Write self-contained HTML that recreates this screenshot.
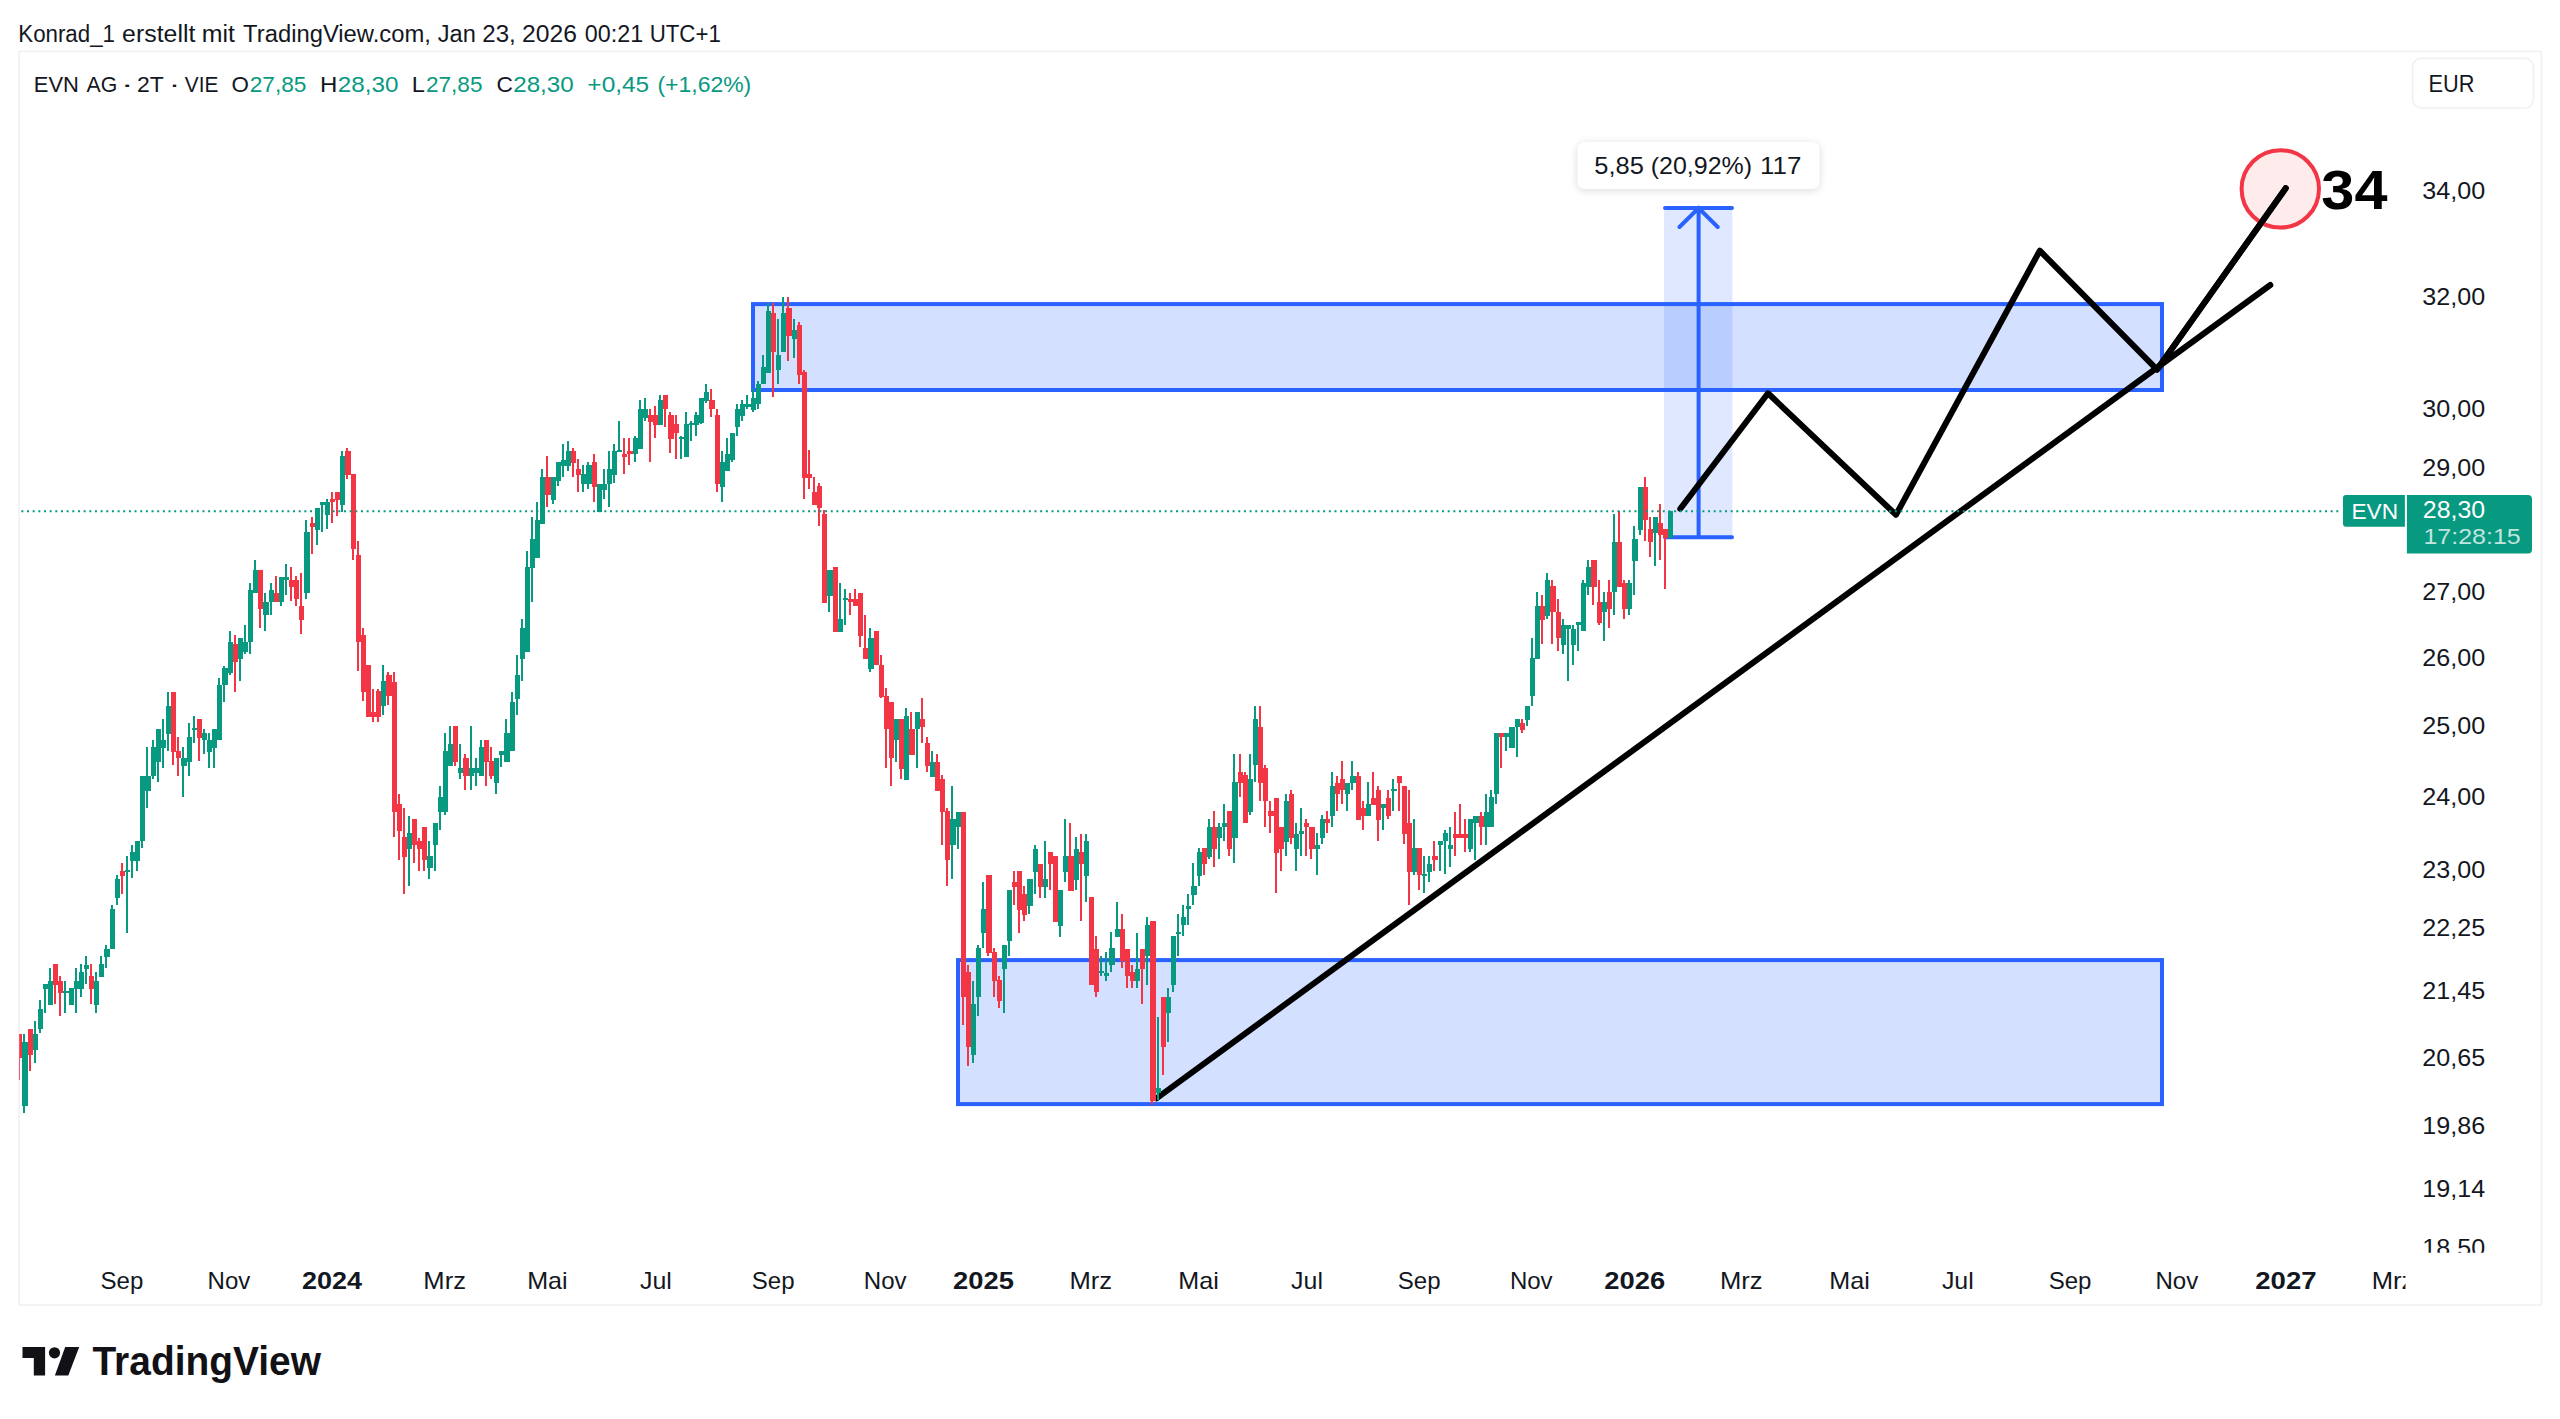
<!DOCTYPE html>
<html><head><meta charset="utf-8"><title>EVN AG chart</title>
<style>
html,body{margin:0;padding:0;background:#fff;}
body{width:2560px;height:1419px;overflow:hidden;position:relative;font-family:"Liberation Sans",sans-serif;}
svg{position:absolute;left:0;top:0;}
text{font-family:"Liberation Sans",sans-serif;fill:#131722;}
</style></head><body>
<svg width="2560" height="1419" viewBox="0 0 2560 1419">
<defs>
<clipPath id="pane"><rect x="19.2" y="52" width="2386.8" height="1200"/></clipPath>
<clipPath id="paxis"><rect x="2406" y="52" width="134" height="1200.7"/></clipPath>
<clipPath id="taxis"><rect x="20" y="1252" width="2385.5" height="52"/></clipPath>
<filter id="sh" x="-10%" y="-40%" width="120%" height="190%"><feGaussianBlur stdDeviation="4"/></filter>
</defs>
<rect x="0" y="0" width="2560" height="1419" fill="#fff"/>
<!-- header -->
<text x="18.27" y="41.5" font-size="23" textLength="96.72" lengthAdjust="spacingAndGlyphs" style="fill:#131722">Konrad_1</text>
<text x="122.12" y="41.5" font-size="23" textLength="73.27" lengthAdjust="spacingAndGlyphs" style="fill:#131722">erstellt</text>
<text x="201.73" y="41.5" font-size="23" textLength="33.19" lengthAdjust="spacingAndGlyphs" style="fill:#131722">mit</text>
<text x="243.13" y="41.5" font-size="23" textLength="187.75" lengthAdjust="spacingAndGlyphs" style="fill:#131722">TradingView.com,</text>
<text x="437.79" y="41.5" font-size="23" textLength="38.03" lengthAdjust="spacingAndGlyphs" style="fill:#131722">Jan</text>
<text x="482.39" y="41.5" font-size="23" textLength="33.44" lengthAdjust="spacingAndGlyphs" style="fill:#131722">23,</text>
<text x="522.1" y="41.5" font-size="23" textLength="54.9" lengthAdjust="spacingAndGlyphs" style="fill:#131722">2026</text>
<text x="584.82" y="41.5" font-size="23" textLength="58.34" lengthAdjust="spacingAndGlyphs" style="fill:#131722">00:21</text>
<text x="649.7" y="41.5" font-size="23" textLength="71.15" lengthAdjust="spacingAndGlyphs" style="fill:#131722">UTC+1</text>
<!-- frame -->
<rect x="19.1" y="51.4" width="2522.3" height="1253.6" fill="#fff" stroke="#f1f1f3" stroke-width="1.6"/>
<g clip-path="url(#pane)">
<!-- zones -->
<rect x="753" y="304.1" width="1409" height="85.9" fill="rgba(41,98,255,0.2)" stroke="#2962ff" stroke-width="4"/>
<rect x="958" y="960.1" width="1204" height="144" fill="rgba(41,98,255,0.2)" stroke="#2962ff" stroke-width="4"/>
<!-- measure tool -->
<rect x="1664" y="208" width="68.4" height="329" fill="rgba(41,98,255,0.15)"/>
<g stroke="#2962ff" stroke-width="4" stroke-linecap="round" fill="none">
<path d="M1665 208H1732M1665 537.3H1732M1698.6 208V537.3M1679.5 227L1698.6 208L1717.7 227"/>
</g>
<!-- black lines -->
<g stroke="#000" stroke-width="6" stroke-linecap="round" stroke-linejoin="round" fill="none">
<path d="M1156.5 1098.3L2270.3 285"/>
<path d="M1680.3 508.8L1768 393.3L1896 514.8L2039.8 250.7L2157.1 369.6L2285.7 188.2"/>
</g>
<!-- circle -->
<circle cx="2280.3" cy="188.9" r="38.7" fill="rgba(242,54,69,0.1)" stroke="#f23645" stroke-width="4"/>
<path d="M2157.1 369.6L2285.7 188.2" stroke="#000" stroke-width="6" stroke-linecap="round" fill="none"/>
<!-- candles -->
<path fill="#f23645" d="M18 1058h2V1080h-2zM17 1034h5V1058h-5zM29 1055h2V1071h-2zM28 1029h5V1055h-5zM54 985h2V1004h-2zM53 964h5V985h-5zM59 976h2V981h-2zM59 993h2V1016h-2zM58 981h5V993h-5zM90 964h2V976h-2zM90 989h2V1004h-2zM89 976h5V989h-5zM121 863h2V871h-2zM121 876h2V894h-2zM120 871h5V876h-5zM172 752h2V765h-2zM171 692h5V752h-5zM177 737h2V751h-2zM177 758h2V776h-2zM176 751h5V758h-5zM198 738h2V761h-2zM197 719h5V738h-5zM234 635h2V644h-2zM234 662h2V692h-2zM233 644h5V662h-5zM259 609h2V628h-2zM258 570h5V609h-5zM275 576h2V593h-2zM274 593h5V602h-5zM290 567h2V580h-2zM290 587h2V601h-2zM289 580h5V587h-5zM295 576h2V580h-2zM295 599h2V606h-2zM294 580h5V599h-5zM300 573h2V606h-2zM300 620h2V634h-2zM299 606h5V620h-5zM311 517h2V523h-2zM311 527h2V554h-2zM310 523h5V527h-5zM331 492h2V499h-2zM331 502h2V523h-2zM330 499h5V502h-5zM336 500h2V516h-2zM335 492h5V500h-5zM346 448h2V451h-2zM346 475h2V479h-2zM345 451h6V475h-6zM352 549h2V560h-2zM351 474h5V549h-5zM357 541h2V555h-2zM357 642h2V671h-2zM356 555h5V642h-5zM362 628h2V635h-2zM362 692h2V701h-2zM361 635h5V692h-5zM366 665h5V717h-5zM372 689h2V712h-2zM372 717h2V722h-2zM371 712h5V717h-5zM377 689h2V691h-2zM377 717h2V722h-2zM376 691h5V717h-5zM387 672h2V675h-2zM387 696h2V705h-2zM386 675h6V696h-6zM393 672h2V682h-2zM393 812h2V837h-2zM392 682h5V812h-5zM398 794h2V804h-2zM398 831h2V860h-2zM397 804h5V831h-5zM403 808h2V837h-2zM403 857h2V894h-2zM402 837h5V857h-5zM413 845h2V863h-2zM412 819h5V845h-5zM418 838h2V841h-2zM418 849h2V871h-2zM417 841h5V849h-5zM423 860h2V871h-2zM422 827h5V860h-5zM454 762h2V766h-2zM453 726h5V762h-5zM464 754h2V758h-2zM464 776h2V790h-2zM463 758h6V776h-6zM485 762h2V786h-2zM484 740h5V762h-5zM490 747h2V761h-2zM490 776h2V779h-2zM489 761h5V776h-5zM546 456h2V477h-2zM546 495h2V507h-2zM545 477h6V495h-6zM572 448h2V451h-2zM572 463h2V477h-2zM571 451h5V463h-5zM577 459h2V469h-2zM577 475h2V492h-2zM576 469h5V475h-5zM593 454h2V462h-2zM593 487h2V502h-2zM592 462h5V487h-5zM623 438h2V454h-2zM623 457h2V474h-2zM622 454h5V457h-5zM628 438h2V451h-2zM628 454h2V465h-2zM627 451h6V454h-6zM649 409h2V415h-2zM649 422h2V462h-2zM648 415h5V422h-5zM654 406h2V415h-2zM654 425h2V438h-2zM653 415h5V425h-5zM664 409h2V427h-2zM663 395h5V409h-5zM669 412h2V415h-2zM669 439h2V453h-2zM668 415h6V439h-6zM675 415h2V424h-2zM675 433h2V459h-2zM674 424h5V433h-5zM710 389h2V400h-2zM710 409h2V417h-2zM709 400h6V409h-6zM716 409h2V415h-2zM716 484h2V492h-2zM715 415h5V484h-5zM772 303h2V313h-2zM772 352h2V397h-2zM771 313h5V352h-5zM787 297h2V308h-2zM787 336h2V361h-2zM786 308h6V336h-6zM798 322h2V325h-2zM798 375h2V384h-2zM797 325h5V375h-5zM803 370h2V372h-2zM803 478h2V499h-2zM802 372h5V478h-5zM808 450h2V474h-2zM808 478h2V489h-2zM807 474h5V478h-5zM813 477h2V492h-2zM812 492h5V505h-5zM818 483h2V486h-2zM818 508h2V526h-2zM817 486h5V508h-5zM823 510h2V514h-2zM822 514h5V603h-5zM833 567h5V632h-5zM849 593h2V599h-2zM849 602h2V615h-2zM848 599h5V602h-5zM854 589h2V599h-2zM853 599h5V606h-5zM859 636h2V647h-2zM858 593h5V636h-5zM864 615h2V648h-2zM863 648h5V659h-5zM874 631h5V665h-5zM880 655h2V665h-2zM880 697h2V698h-2zM879 665h5V697h-5zM885 688h2V696h-2zM885 729h2V768h-2zM884 696h5V729h-5zM890 758h2V786h-2zM889 702h5V758h-5zM900 769h2V779h-2zM899 719h5V769h-5zM910 712h2V729h-2zM909 729h6V755h-6zM921 698h2V719h-2zM921 727h2V743h-2zM920 719h5V727h-5zM926 737h2V743h-2zM926 766h2V772h-2zM925 743h5V766h-5zM936 754h2V762h-2zM935 762h5V791h-5zM941 775h2V779h-2zM941 812h2V845h-2zM940 779h5V812h-5zM946 808h2V811h-2zM946 860h2V886h-2zM945 811h5V860h-5zM962 997h2V1025h-2zM961 812h5V997h-5zM967 965h2V972h-2zM967 1047h2V1066h-2zM966 972h5V1047h-5zM987 953h2V956h-2zM986 875h6V953h-6zM993 948h2V952h-2zM993 981h2V997h-2zM992 952h5V981h-5zM998 976h2V980h-2zM998 1001h2V1008h-2zM997 980h5V1001h-5zM1013 871h2V882h-2zM1013 887h2V905h-2zM1012 882h5V887h-5zM1018 910h2V933h-2zM1017 871h5V910h-5zM1023 886h2V894h-2zM1023 915h2V921h-2zM1022 894h5V915h-5zM1039 887h2V898h-2zM1038 864h5V887h-5zM1049 864h2V890h-2zM1048 852h5V864h-5zM1053 856h5V922h-5zM1069 823h2V856h-2zM1068 856h6V891h-6zM1080 834h2V852h-2zM1080 864h2V921h-2zM1079 852h5V864h-5zM1089 897h5V985h-5zM1095 936h2V949h-2zM1095 992h2V997h-2zM1094 949h5V992h-5zM1121 914h2V929h-2zM1121 961h2V968h-2zM1120 929h5V961h-5zM1126 976h2V988h-2zM1125 949h5V976h-5zM1131 965h2V972h-2zM1131 981h2V988h-2zM1130 972h5V981h-5zM1141 969h2V1004h-2zM1140 949h5V969h-5zM1151 1101h2V1105h-2zM1150 921h6V1101h-6zM1162 1047h2V1075h-2zM1161 997h5V1047h-5zM1203 864h2V875h-2zM1202 848h5V864h-5zM1213 811h2V827h-2zM1213 849h2V867h-2zM1212 827h5V849h-5zM1228 849h2V856h-2zM1227 811h5V849h-5zM1239 754h2V772h-2zM1239 783h2V797h-2zM1238 772h5V783h-5zM1244 772h2V775h-2zM1243 775h5V823h-5zM1259 706h2V727h-2zM1259 783h2V801h-2zM1258 727h5V783h-5zM1264 765h2V768h-2zM1264 801h2V827h-2zM1263 768h5V801h-5zM1269 801h2V811h-2zM1269 816h2V833h-2zM1268 811h6V816h-6zM1275 853h2V893h-2zM1274 798h5V853h-5zM1280 849h2V871h-2zM1279 827h5V849h-5zM1290 790h2V794h-2zM1290 838h2V844h-2zM1289 794h5V838h-5zM1305 819h2V823h-2zM1305 827h2V856h-2zM1304 823h5V827h-5zM1310 849h2V859h-2zM1309 827h6V849h-6zM1326 811h2V819h-2zM1326 823h2V833h-2zM1325 819h5V823h-5zM1336 776h2V783h-2zM1336 794h2V811h-2zM1335 783h5V794h-5zM1341 761h2V779h-2zM1341 790h2V804h-2zM1340 779h5V790h-5zM1357 772h2V776h-2zM1356 776h5V820h-5zM1362 801h2V808h-2zM1362 816h2V830h-2zM1361 808h5V816h-5zM1372 772h2V798h-2zM1371 798h5V805h-5zM1377 786h2V790h-2zM1377 820h2V841h-2zM1376 790h5V820h-5zM1387 790h2V798h-2zM1387 816h2V819h-2zM1386 798h5V816h-5zM1398 783h2V811h-2zM1397 776h5V783h-5zM1403 834h2V844h-2zM1402 786h5V834h-5zM1408 790h2V823h-2zM1408 872h2V905h-2zM1407 823h5V872h-5zM1418 875h2V890h-2zM1417 848h5V875h-5zM1433 841h2V856h-2zM1433 860h2V871h-2zM1432 856h6V860h-6zM1454 812h2V834h-2zM1454 838h2V856h-2zM1453 834h5V838h-5zM1459 804h2V834h-2zM1458 834h5V838h-5zM1464 819h2V834h-2zM1464 838h2V852h-2zM1463 834h5V838h-5zM1480 812h2V816h-2zM1480 827h2V845h-2zM1479 816h5V827h-5zM1500 737h2V768h-2zM1499 733h5V737h-5zM1521 719h2V723h-2zM1521 730h2V733h-2zM1520 723h5V730h-5zM1541 595h2V606h-2zM1541 620h2V644h-2zM1540 606h5V620h-5zM1551 580h2V586h-2zM1551 612h2V644h-2zM1550 586h6V612h-6zM1557 599h2V612h-2zM1557 638h2V651h-2zM1556 612h5V638h-5zM1592 587h2V605h-2zM1591 560h6V587h-6zM1598 580h2V602h-2zM1598 623h2V625h-2zM1597 602h5V623h-5zM1608 580h2V592h-2zM1608 609h2V628h-2zM1607 592h5V609h-5zM1618 511h2V542h-2zM1617 542h5V587h-5zM1623 580h2V583h-2zM1623 609h2V619h-2zM1622 583h5V609h-5zM1644 477h2V487h-2zM1644 520h2V541h-2zM1643 487h5V520h-5zM1649 517h2V529h-2zM1649 542h2V557h-2zM1648 529h5V542h-5zM1659 504h2V523h-2zM1659 535h2V560h-2zM1658 523h5V535h-5zM1664 538h2V589h-2zM1663 529h5V538h-5z"/>
<path fill="#089981" d="M23 1034h2V1042h-2zM23 1106h2V1113h-2zM22 1042h6V1106h-6zM34 1021h2V1034h-2zM34 1050h2V1063h-2zM33 1034h5V1050h-5zM39 1000h2V1009h-2zM39 1029h2V1033h-2zM38 1009h5V1029h-5zM44 989h2V1013h-2zM43 984h5V989h-5zM49 968h2V981h-2zM48 981h5V1005h-5zM64 981h2V991h-2zM64 993h2V1013h-2zM63 991h6V993h-6zM69 988h5V1005h-5zM75 968h2V981h-2zM75 989h2V1013h-2zM74 981h5V989h-5zM80 964h2V972h-2zM80 989h2V997h-2zM79 972h5V989h-5zM85 956h2V965h-2zM85 969h2V984h-2zM84 965h5V969h-5zM95 972h2V981h-2zM95 1005h2V1013h-2zM94 981h5V1005h-5zM100 956h2V964h-2zM99 964h5V977h-5zM105 945h2V949h-2zM105 957h2V968h-2zM104 949h6V957h-6zM111 905h2V909h-2zM110 909h5V949h-5zM116 875h2V879h-2zM116 898h2V905h-2zM115 879h5V898h-5zM126 856h2V870h-2zM126 872h2V933h-2zM125 870h5V872h-5zM131 845h2V852h-2zM131 861h2V878h-2zM130 852h5V861h-5zM136 861h2V871h-2zM135 841h5V861h-5zM141 841h2V848h-2zM140 776h5V841h-5zM146 747h2V776h-2zM146 791h2V808h-2zM145 776h6V791h-6zM152 740h2V747h-2zM152 776h2V779h-2zM151 747h5V776h-5zM157 762h2V782h-2zM156 729h5V762h-5zM162 719h2V740h-2zM162 748h2V768h-2zM161 740h5V748h-5zM167 692h2V706h-2zM167 734h2V751h-2zM166 706h5V734h-5zM182 747h2V758h-2zM182 766h2V797h-2zM181 758h6V766h-6zM188 723h2V737h-2zM188 762h2V776h-2zM187 737h5V762h-5zM193 716h2V728h-2zM193 730h2V743h-2zM192 728h5V730h-5zM203 729h2V733h-2zM203 740h2V754h-2zM202 733h5V740h-5zM208 733h2V740h-2zM208 752h2V768h-2zM207 740h5V752h-5zM213 748h2V768h-2zM212 729h5V748h-5zM218 678h2V685h-2zM217 685h5V740h-5zM223 666h2V668h-2zM223 685h2V702h-2zM222 668h6V685h-6zM229 631h2V642h-2zM229 673h2V675h-2zM228 642h5V673h-5zM239 659h2V681h-2zM238 638h5V659h-5zM244 625h2V642h-2zM244 652h2V654h-2zM243 642h5V652h-5zM249 583h2V590h-2zM249 642h2V654h-2zM248 590h5V642h-5zM254 560h2V570h-2zM253 570h5V593h-5zM264 593h2V602h-2zM264 615h2V631h-2zM263 602h6V615h-6zM270 583h2V590h-2zM270 602h2V615h-2zM269 590h5V602h-5zM280 602h2V606h-2zM279 577h5V602h-5zM285 564h2V577h-2zM285 580h2V595h-2zM284 577h5V580h-5zM305 520h2V532h-2zM305 593h2V599h-2zM304 532h6V593h-6zM316 530h2V545h-2zM315 508h5V530h-5zM321 505h2V532h-2zM320 502h5V505h-5zM326 499h2V502h-2zM326 515h2V529h-2zM325 502h5V515h-5zM341 451h2V456h-2zM341 505h2V512h-2zM340 456h5V505h-5zM382 665h2V681h-2zM382 706h2V715h-2zM381 681h5V706h-5zM408 816h2V833h-2zM408 849h2V886h-2zM407 833h5V849h-5zM428 841h2V856h-2zM428 868h2V879h-2zM427 856h6V868h-6zM434 845h2V871h-2zM433 823h5V845h-5zM439 786h2V797h-2zM439 812h2V830h-2zM438 797h5V812h-5zM444 733h2V751h-2zM444 812h2V815h-2zM443 751h5V812h-5zM449 726h2V744h-2zM448 744h5V766h-5zM459 744h2V768h-2zM459 773h2V779h-2zM458 768h5V773h-5zM470 726h2V768h-2zM470 776h2V790h-2zM469 768h5V776h-5zM475 758h2V768h-2zM475 773h2V786h-2zM474 768h5V773h-5zM480 740h2V747h-2zM479 747h5V776h-5zM495 783h2V794h-2zM494 758h5V783h-5zM500 755h2V767h-2zM499 751h5V755h-5zM505 719h2V733h-2zM504 733h6V762h-6zM511 692h2V702h-2zM510 702h5V751h-5zM516 655h2V675h-2zM516 699h2V715h-2zM515 675h5V699h-5zM521 619h2V628h-2zM521 659h2V681h-2zM520 628h5V659h-5zM526 551h2V567h-2zM525 567h5V652h-5zM531 517h2V539h-2zM531 568h2V602h-2zM530 539h5V568h-5zM536 502h2V520h-2zM535 520h5V558h-5zM541 469h2V477h-2zM540 477h5V524h-5zM552 500h2V504h-2zM551 477h5V500h-5zM557 481h2V486h-2zM556 462h5V481h-5zM562 444h2V460h-2zM562 466h2V477h-2zM561 460h5V466h-5zM567 441h2V451h-2zM567 466h2V471h-2zM566 451h5V466h-5zM582 465h2V474h-2zM582 484h2V492h-2zM581 474h5V484h-5zM587 462h2V465h-2zM587 484h2V489h-2zM586 465h6V484h-6zM597 484h5V512h-5zM603 469h2V484h-2zM603 490h2V499h-2zM602 484h5V490h-5zM608 451h2V469h-2zM608 484h2V507h-2zM607 469h5V484h-5zM613 444h2V451h-2zM613 475h2V483h-2zM612 451h5V475h-5zM618 421h2V450h-2zM617 450h5V452h-5zM634 436h2V438h-2zM634 454h2V462h-2zM633 438h5V454h-5zM639 400h2V409h-2zM638 409h5V449h-5zM644 398h2V409h-2zM644 418h2V421h-2zM643 409h5V418h-5zM659 395h2V400h-2zM658 400h5V425h-5zM680 436h2V437h-2zM680 439h2V459h-2zM679 437h5V439h-5zM685 412h2V424h-2zM684 424h5V457h-5zM690 421h2V423h-2zM690 425h2V441h-2zM689 423h5V425h-5zM695 412h2V415h-2zM695 425h2V436h-2zM694 415h5V425h-5zM700 423h2V424h-2zM699 398h5V423h-5zM705 384h2V392h-2zM705 401h2V403h-2zM704 392h5V401h-5zM721 451h2V462h-2zM721 487h2V502h-2zM720 462h5V487h-5zM726 438h2V454h-2zM725 454h5V471h-5zM731 460h2V462h-2zM730 433h5V460h-5zM736 404h2V409h-2zM736 427h2V436h-2zM735 409h5V427h-5zM741 400h2V404h-2zM741 416h2V421h-2zM740 404h5V416h-5zM746 395h2V404h-2zM746 407h2V409h-2zM745 404h6V407h-6zM752 389h2V398h-2zM752 410h2V412h-2zM751 398h5V410h-5zM757 381h2V384h-2zM757 404h2V409h-2zM756 384h5V404h-5zM762 355h2V367h-2zM761 367h5V384h-5zM767 303h2V311h-2zM766 311h5V373h-5zM777 319h2V355h-2zM777 370h2V384h-2zM776 355h5V370h-5zM782 297h2V313h-2zM781 313h5V352h-5zM793 319h2V330h-2zM793 339h2V358h-2zM792 330h5V339h-5zM828 596h2V612h-2zM827 570h6V596h-6zM839 583h2V619h-2zM838 619h5V632h-5zM844 589h2V598h-2zM844 600h2V625h-2zM843 598h5V600h-5zM869 628h2V638h-2zM869 669h2V672h-2zM868 638h6V669h-6zM895 740h2V762h-2zM894 719h5V740h-5zM905 708h2V716h-2zM904 716h5V780h-5zM916 729h2V768h-2zM915 712h5V729h-5zM931 751h2V762h-2zM930 762h5V777h-5zM951 786h2V819h-2zM951 845h2V879h-2zM950 819h6V845h-6zM957 827h2V849h-2zM956 812h5V827h-5zM972 981h2V1004h-2zM972 1055h2V1063h-2zM971 1004h5V1055h-5zM977 945h2V948h-2zM977 997h2V1016h-2zM976 948h5V997h-5zM982 882h2V909h-2zM982 933h2V948h-2zM981 909h5V933h-5zM1003 969h2V1013h-2zM1002 945h5V969h-5zM1008 941h2V956h-2zM1007 890h5V941h-5zM1028 906h2V914h-2zM1027 879h6V906h-6zM1034 845h2V849h-2zM1034 872h2V894h-2zM1033 849h5V872h-5zM1044 841h2V879h-2zM1044 887h2V898h-2zM1043 879h5V887h-5zM1059 926h2V937h-2zM1058 890h5V926h-5zM1064 819h2V856h-2zM1064 872h2V882h-2zM1063 856h5V872h-5zM1075 837h2V849h-2zM1075 880h2V890h-2zM1074 849h5V880h-5zM1085 834h2V841h-2zM1085 876h2V902h-2zM1084 841h5V876h-5zM1100 956h2V971h-2zM1100 973h2V976h-2zM1099 971h5V973h-5zM1105 952h2V973h-2zM1105 976h2V981h-2zM1104 973h5V976h-5zM1110 932h2V948h-2zM1110 965h2V972h-2zM1109 948h6V965h-6zM1116 902h2V929h-2zM1115 929h5V937h-5zM1136 933h2V969h-2zM1136 981h2V988h-2zM1135 969h5V981h-5zM1146 917h2V925h-2zM1146 956h2V985h-2zM1145 925h5V956h-5zM1157 1017h2V1088h-2zM1157 1093h2V1100h-2zM1156 1088h5V1093h-5zM1167 988h2V997h-2zM1167 1013h2V1042h-2zM1166 997h5V1013h-5zM1172 985h2V992h-2zM1171 936h5V985h-5zM1177 914h2V932h-2zM1177 934h2V956h-2zM1176 932h5V934h-5zM1182 905h2V917h-2zM1182 925h2V936h-2zM1181 917h5V925h-5zM1187 894h2V906h-2zM1187 909h2V925h-2zM1186 906h5V909h-5zM1192 863h2V886h-2zM1192 895h2V905h-2zM1191 886h6V895h-6zM1198 848h2V852h-2zM1198 876h2V886h-2zM1197 852h5V876h-5zM1208 819h2V827h-2zM1208 857h2V859h-2zM1207 827h5V857h-5zM1218 823h2V827h-2zM1218 838h2V859h-2zM1217 827h5V838h-5zM1223 804h2V823h-2zM1223 827h2V841h-2zM1222 823h5V827h-5zM1233 754h2V782h-2zM1233 838h2V863h-2zM1232 782h6V838h-6zM1249 754h2V779h-2zM1249 812h2V815h-2zM1248 779h5V812h-5zM1254 706h2V719h-2zM1254 765h2V782h-2zM1253 719h5V765h-5zM1285 794h2V801h-2zM1285 842h2V856h-2zM1284 801h5V842h-5zM1295 823h2V834h-2zM1295 849h2V871h-2zM1294 834h5V849h-5zM1300 808h2V831h-2zM1300 834h2V856h-2zM1299 831h5V834h-5zM1316 833h2V845h-2zM1316 849h2V875h-2zM1315 845h5V849h-5zM1321 815h2V819h-2zM1321 838h2V844h-2zM1320 819h5V838h-5zM1331 772h2V786h-2zM1331 816h2V827h-2zM1330 786h5V816h-5zM1346 794h2V811h-2zM1345 783h5V794h-5zM1351 761h2V776h-2zM1351 783h2V790h-2zM1350 776h6V783h-6zM1367 782h2V804h-2zM1366 804h5V816h-5zM1382 808h2V830h-2zM1381 804h5V808h-5zM1392 779h2V789h-2zM1392 791h2V811h-2zM1391 789h6V791h-6zM1413 819h2V848h-2zM1413 872h2V875h-2zM1412 848h5V872h-5zM1423 856h2V874h-2zM1423 876h2V893h-2zM1422 874h5V876h-5zM1428 856h2V864h-2zM1428 872h2V882h-2zM1427 864h5V872h-5zM1439 845h2V871h-2zM1438 841h5V845h-5zM1444 830h2V833h-2zM1444 841h2V874h-2zM1443 833h5V841h-5zM1449 827h2V845h-2zM1449 849h2V867h-2zM1448 845h5V849h-5zM1469 849h2V852h-2zM1468 819h5V849h-5zM1474 823h2V860h-2zM1473 816h6V823h-6zM1485 794h2V812h-2zM1485 827h2V845h-2zM1484 812h5V827h-5zM1490 790h2V797h-2zM1489 797h5V827h-5zM1495 794h2V804h-2zM1494 733h5V794h-5zM1505 737h2V751h-2zM1504 733h5V737h-5zM1509 727h6V748h-6zM1516 727h2V757h-2zM1515 719h5V727h-5zM1526 720h2V726h-2zM1525 706h5V720h-5zM1531 638h2V658h-2zM1531 696h2V706h-2zM1530 658h5V696h-5zM1536 592h2V606h-2zM1535 606h5V659h-5zM1546 573h2V580h-2zM1546 616h2V619h-2zM1545 580h5V616h-5zM1562 619h2V625h-2zM1562 645h2V654h-2zM1561 625h5V645h-5zM1567 629h2V681h-2zM1566 625h5V629h-5zM1572 625h2V629h-2zM1572 645h2V665h-2zM1571 629h5V645h-5zM1577 625h2V651h-2zM1576 622h5V625h-5zM1582 580h2V583h-2zM1581 583h5V631h-5zM1587 560h2V567h-2zM1587 587h2V595h-2zM1586 567h5V587h-5zM1603 592h2V602h-2zM1603 612h2V641h-2zM1602 602h5V612h-5zM1613 514h2V542h-2zM1613 592h2V615h-2zM1612 542h5V592h-5zM1628 580h2V583h-2zM1628 609h2V615h-2zM1627 583h5V609h-5zM1633 526h2V539h-2zM1633 561h2V595h-2zM1632 539h6V561h-6zM1639 530h2V535h-2zM1638 487h5V530h-5zM1654 533h2V566h-2zM1653 517h5V533h-5zM1668 511h5V538h-5z"/>
<!-- dotted price line -->
<path d="M15.7 511.2H2341" stroke="#089981" stroke-width="2" stroke-dasharray="2 3.66" fill="none"/>
<!-- measure label -->
<rect x="1577.5" y="143.5" width="242" height="47" rx="7" fill="#000" opacity="0.14" filter="url(#sh)"/>
<rect x="1577.5" y="142" width="242" height="47" rx="7" fill="#fff"/>
<text x="1594.38" y="174.3" font-size="24" textLength="49.51" lengthAdjust="spacingAndGlyphs" style="fill:#131722">5,85</text>
<text x="1650.75" y="174.3" font-size="24" textLength="101.3" lengthAdjust="spacingAndGlyphs" style="fill:#131722">(20,92%)</text>
<text x="1760.07" y="174.3" font-size="24" textLength="41.41" lengthAdjust="spacingAndGlyphs" style="fill:#131722">117</text>
<!-- EVN symbol label -->
<path d="M2346 495H2404.9V526.8H2346a3 3 0 0 1-3-3V498a3 3 0 0 1 3-3z" fill="#089981"/>
<!-- legend, 34, EVN -->
<text x="33.8" y="92.2" font-size="22.5" textLength="45.11" lengthAdjust="spacingAndGlyphs" style="fill:#131722">EVN</text>
<text x="86.6" y="92.2" font-size="22.5" textLength="30.74" lengthAdjust="spacingAndGlyphs" style="fill:#131722">AG</text>
<text x="120.84" y="92.2" font-size="22.5" textLength="12.91" lengthAdjust="spacingAndGlyphs" style="fill:#131722">·</text>
<text x="136.93" y="92.2" font-size="22.5" textLength="26.81" lengthAdjust="spacingAndGlyphs" style="fill:#131722">2T</text>
<text x="168.83" y="92.2" font-size="22.5" textLength="11.51" lengthAdjust="spacingAndGlyphs" style="fill:#131722">·</text>
<text x="184.78" y="92.2" font-size="22.5" textLength="33.52" lengthAdjust="spacingAndGlyphs" style="fill:#131722">VIE</text>
<text x="231.56" y="92.2" font-size="22.5" textLength="17.4" lengthAdjust="spacingAndGlyphs" style="fill:#131722">O</text>
<text x="249.66" y="92.2" font-size="22.5" textLength="56.79" lengthAdjust="spacingAndGlyphs" style="fill:#089981">27,85</text>
<text x="320.04" y="92.2" font-size="22.5" textLength="17.33" lengthAdjust="spacingAndGlyphs" style="fill:#131722">H</text>
<text x="337.89" y="92.2" font-size="22.5" textLength="60.72" lengthAdjust="spacingAndGlyphs" style="fill:#089981">28,30</text>
<text x="411.78" y="92.2" font-size="22.5" textLength="13.11" lengthAdjust="spacingAndGlyphs" style="fill:#131722">L</text>
<text x="425.97" y="92.2" font-size="22.5" textLength="56.48" lengthAdjust="spacingAndGlyphs" style="fill:#089981">27,85</text>
<text x="496.4" y="92.2" font-size="22.5" textLength="16.4" lengthAdjust="spacingAndGlyphs" style="fill:#131722">C</text>
<text x="513.19" y="92.2" font-size="22.5" textLength="60.52" lengthAdjust="spacingAndGlyphs" style="fill:#089981">28,30</text>
<text x="587.36" y="92.2" font-size="22.5" textLength="61.87" lengthAdjust="spacingAndGlyphs" style="fill:#089981">+0,45</text>
<text x="657.45" y="92.2" font-size="22.5" textLength="93.8" lengthAdjust="spacingAndGlyphs" style="fill:#089981">(+1,62%)</text>
<text x="2321.38" y="209.4" font-size="55.5" textLength="66.06" lengthAdjust="spacingAndGlyphs" font-weight="bold" style="fill:#000">34</text>
<text x="2351.54" y="519.4" font-size="22.5" textLength="46.52" lengthAdjust="spacingAndGlyphs" style="fill:#fff">EVN</text>
</g>
<!-- price axis -->
<g clip-path="url(#paxis)">
<path d="M2406.9 495H2528a4 4 0 0 1 4 4V549.4a4 4 0 0 1-4 4H2406.9z" fill="#089981"/>
<text x="2422.24" y="198.8" font-size="24" textLength="62.9" lengthAdjust="spacingAndGlyphs" style="fill:#131722">34,00</text>
<text x="2422.24" y="304.8" font-size="24" textLength="62.9" lengthAdjust="spacingAndGlyphs" style="fill:#131722">32,00</text>
<text x="2422.24" y="416.5" font-size="24" textLength="62.9" lengthAdjust="spacingAndGlyphs" style="fill:#131722">30,00</text>
<text x="2422.24" y="475.8" font-size="24" textLength="62.9" lengthAdjust="spacingAndGlyphs" style="fill:#131722">29,00</text>
<text x="2422.24" y="599.8" font-size="24" textLength="62.9" lengthAdjust="spacingAndGlyphs" style="fill:#131722">27,00</text>
<text x="2422.24" y="665.8" font-size="24" textLength="62.9" lengthAdjust="spacingAndGlyphs" style="fill:#131722">26,00</text>
<text x="2422.24" y="733.8" font-size="24" textLength="62.9" lengthAdjust="spacingAndGlyphs" style="fill:#131722">25,00</text>
<text x="2422.24" y="804.7" font-size="24" textLength="62.9" lengthAdjust="spacingAndGlyphs" style="fill:#131722">24,00</text>
<text x="2422.24" y="878" font-size="24" textLength="62.9" lengthAdjust="spacingAndGlyphs" style="fill:#131722">23,00</text>
<text x="2422.24" y="935.8" font-size="24" textLength="62.9" lengthAdjust="spacingAndGlyphs" style="fill:#131722">22,25</text>
<text x="2422.24" y="999.1" font-size="24" textLength="62.9" lengthAdjust="spacingAndGlyphs" style="fill:#131722">21,45</text>
<text x="2422.24" y="1065.8" font-size="24" textLength="62.9" lengthAdjust="spacingAndGlyphs" style="fill:#131722">20,65</text>
<text x="2422.24" y="1134.3" font-size="24" textLength="62.9" lengthAdjust="spacingAndGlyphs" style="fill:#131722">19,86</text>
<text x="2422.24" y="1197" font-size="24" textLength="62.9" lengthAdjust="spacingAndGlyphs" style="fill:#131722">19,14</text>
<text x="2422.24" y="1255.7" font-size="24" textLength="62.9" lengthAdjust="spacingAndGlyphs" style="fill:#131722">18,50</text>
<text x="2422.85" y="517.9" font-size="23.5" textLength="62.28" lengthAdjust="spacingAndGlyphs" style="fill:#fff">28,30</text>
<text x="2423.45" y="544.2" font-size="22.5" textLength="97.34" lengthAdjust="spacingAndGlyphs" style="fill:#fff;fill-opacity:0.75">17:28:15</text>
</g>
<!-- EUR box -->
<rect x="2412.6" y="58.4" width="120.8" height="49.6" rx="8.5" fill="#fff" stroke="#f1f1f3" stroke-width="1.6"/>
<!-- time axis -->
<g clip-path="url(#taxis)">
<text x="100.57" y="1289.1" font-size="24" textLength="42.77" lengthAdjust="spacingAndGlyphs" style="fill:#131722">Sep</text>
<text x="207.53" y="1289.1" font-size="24" textLength="42.78" lengthAdjust="spacingAndGlyphs" style="fill:#131722">Nov</text>
<text x="301.92" y="1289.1" font-size="24" textLength="60" lengthAdjust="spacingAndGlyphs" font-weight="bold" style="fill:#131722">2024</text>
<text x="423.38" y="1289.1" font-size="24" textLength="42.63" lengthAdjust="spacingAndGlyphs" style="fill:#131722">Mrz</text>
<text x="527.16" y="1289.1" font-size="24" textLength="40.48" lengthAdjust="spacingAndGlyphs" style="fill:#131722">Mai</text>
<text x="639.96" y="1289.1" font-size="24" textLength="31.83" lengthAdjust="spacingAndGlyphs" style="fill:#131722">Jul</text>
<text x="751.75" y="1289.1" font-size="24" textLength="42.77" lengthAdjust="spacingAndGlyphs" style="fill:#131722">Sep</text>
<text x="863.83" y="1289.1" font-size="24" textLength="42.78" lengthAdjust="spacingAndGlyphs" style="fill:#131722">Nov</text>
<text x="953.09" y="1289.1" font-size="24" textLength="60.82" lengthAdjust="spacingAndGlyphs" font-weight="bold" style="fill:#131722">2025</text>
<text x="1069.44" y="1289.1" font-size="24" textLength="42.63" lengthAdjust="spacingAndGlyphs" style="fill:#131722">Mrz</text>
<text x="1178.34" y="1289.1" font-size="24" textLength="40.48" lengthAdjust="spacingAndGlyphs" style="fill:#131722">Mai</text>
<text x="1291.14" y="1289.1" font-size="24" textLength="31.83" lengthAdjust="spacingAndGlyphs" style="fill:#131722">Jul</text>
<text x="1397.8" y="1289.1" font-size="24" textLength="42.77" lengthAdjust="spacingAndGlyphs" style="fill:#131722">Sep</text>
<text x="1509.89" y="1289.1" font-size="24" textLength="42.78" lengthAdjust="spacingAndGlyphs" style="fill:#131722">Nov</text>
<text x="1604.27" y="1289.1" font-size="24" textLength="60.82" lengthAdjust="spacingAndGlyphs" font-weight="bold" style="fill:#131722">2026</text>
<text x="1719.96" y="1289.1" font-size="24" textLength="42.63" lengthAdjust="spacingAndGlyphs" style="fill:#131722">Mrz</text>
<text x="1829.29" y="1289.1" font-size="24" textLength="40.48" lengthAdjust="spacingAndGlyphs" style="fill:#131722">Mai</text>
<text x="1941.91" y="1289.1" font-size="24" textLength="31.83" lengthAdjust="spacingAndGlyphs" style="fill:#131722">Jul</text>
<text x="2048.67" y="1289.1" font-size="24" textLength="42.77" lengthAdjust="spacingAndGlyphs" style="fill:#131722">Sep</text>
<text x="2155.45" y="1289.1" font-size="24" textLength="42.78" lengthAdjust="spacingAndGlyphs" style="fill:#131722">Nov</text>
<text x="2255.28" y="1289.1" font-size="24" textLength="61.24" lengthAdjust="spacingAndGlyphs" font-weight="bold" style="fill:#131722">2027</text>
<text x="2371.66" y="1289.1" font-size="24" textLength="42.63" lengthAdjust="spacingAndGlyphs" style="fill:#131722">Mrz</text>
</g>
<!-- TradingView logo -->
<g fill="#121216">
<path d="M22.5 1347H45.1V1375.4H33.8V1358.1H22.5z"/>
<circle cx="54.5" cy="1352.8" r="5.6"/>
<path d="M65.2 1347H79.2L68.3 1375.4H54.9z"/>
</g>
<text x="2428.57" y="91.7" font-size="23" textLength="45.86" lengthAdjust="spacingAndGlyphs" style="fill:#131722">EUR</text>
<text x="92.5" y="1375.4" font-size="41.3" textLength="228.4" lengthAdjust="spacingAndGlyphs" font-weight="bold" style="fill:#121216">TradingView</text>
</svg>
</body></html>
